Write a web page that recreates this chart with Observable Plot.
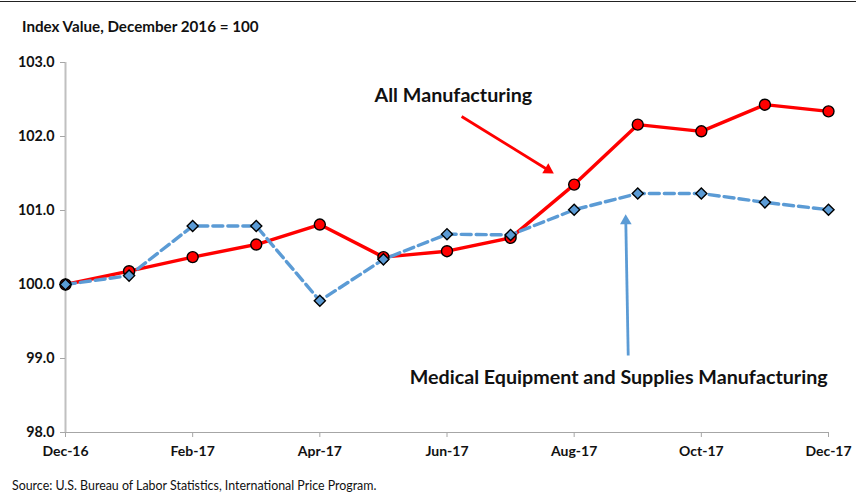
<!DOCTYPE html>
<html>
<head>
<meta charset="utf-8">
<script src="https://cdn.jsdelivr.net/npm/d3@7"></script>
<script src="https://cdn.jsdelivr.net/npm/@observablehq/plot@0.6"></script>
<style>
  html, body { margin: 0; padding: 0; background: #fff; }
  #wrap { width: 856px; height: 497px; position: relative; overflow: hidden; font-family: Lato, "Open Sans", sans-serif; }
  #topline { position: absolute; left: 0; top: 1px; width: 856px; height: 0; border-top: 1.5px solid #222; }
  #title { height: 42px; box-sizing: border-box; padding: 16px 0 0 22px; font-weight: 700; font-size: 15.2px; color: #111; line-height: 20px; }
  #caption { height: 27px; box-sizing: border-box; padding: 8px 0 0 12px; font-size: 12.4px; color: #111; line-height: 15px; }
  svg { display: block; }
</style>
</head>
<body>
<div id="wrap">
  <div id="topline"></div>
  <div id="title">Index Value, December 2016 = 100</div>
  <div id="chart"></div>
  <div id="caption">Source: U.S. Bureau of Labor Statistics, International Price Program.</div>
</div>
<script>
// ---- data ----
const months = ["Dec-16","Jan-17","Feb-17","Mar-17","Apr-17","May-17","Jun-17","Jul-17","Aug-17","Sep-17","Oct-17","Nov-17","Dec-17"];
const allManufacturing = [100.0, 100.18, 100.37, 100.54, 100.81, 100.37, 100.45, 100.63, 101.35, 102.16, 102.07, 102.43, 102.34];
const medicalEquipment = [100.0, 100.12, 100.79, 100.79, 99.78, 100.34, 100.68, 100.67, 101.01, 101.23, 101.23, 101.11, 101.01];
const yTicks = [98, 99, 100, 101, 102, 103];
const xTicks = [0, 2, 4, 6, 8, 10, 12];
const labels = [
  {text: "All Manufacturing", x: 6.1, y: 102.55},
  {text: "Medical Equipment and Supplies Manufacturing", x: 8.7, y: 98.74}
];
const arrows = [
  {x1: 6.23, y1: 102.27, x2: 7.68, y2: 101.5, color: "#ff0000"},
  {x1: 8.85, y1: 99.04, x2: 8.81, y2: 100.95, color: "#5b9bd5"}
];

// ---- layout ----
const W = 856, H = 428;
const mL = 65, mR = 28, mT = 20, mB = 38;
const RED = "#ff0000", BLUE = "#5b9bd5";

const red = months.map((m, i) => ({i, v: allManufacturing[i]}));
const blue = months.map((m, i) => ({i, v: medicalEquipment[i]}));

// pixel scales to orient arrowheads
const xs = Plot.scale({x: {type: "linear", domain: [0, 12], range: [mL, W - mR]}});
const ys = Plot.scale({y: {type: "linear", domain: [98, 103], range: [H - mB, mT]}});
const headR = 4.3;
const tipDist = 2 * Math.sqrt(Math.PI * headR * headR / (Math.sqrt(3) * 3));
const heads = arrows.map(a => {
  const px1 = xs.apply(a.x1), py1 = ys.apply(a.y1);
  const px2 = xs.apply(a.x2), py2 = ys.apply(a.y2);
  const dx = px2 - px1, dy = py2 - py1, len = Math.hypot(dx, dy);
  const ux = dx / len, uy = dy / len;
  const cx = px2 - ux * tipDist, cy = py2 - uy * tipDist;
  return {
    x1: a.x1, y1: a.y1,
    xc: xs.invert(cx), yc: ys.invert(cy),
    rot: Math.atan2(dx, -dy) * 180 / Math.PI,
    color: a.color
  };
});

const chart = Plot.plot({
  width: W, height: H,
  marginLeft: mL, marginRight: mR, marginTop: mT, marginBottom: mB,
  style: {fontFamily: "Lato, 'Open Sans', sans-serif", background: "#fff", color: "#111"},
  x: {type: "linear", domain: [0, 12]},
  y: {type: "linear", domain: [98, 103]},
  marks: [
    Plot.ruleX([0], {y1: 98, y2: 103, stroke: "#c0c0c0", strokeWidth: 2}),
    Plot.ruleY([98], {x1: 0, x2: 12, stroke: "#a6a6a6", strokeWidth: 1.2}),
    Plot.axisY({ticks: yTicks, tickFormat: d3.format(".1f"), tickSize: 5, tickPadding: 6, stroke: "#a6a6a6", fontSize: 14.3, fontWeight: 700, label: null}),
    Plot.axisX({ticks: xTicks, tickFormat: i => months[i], tickSize: 5, tickPadding: 9, stroke: "#a6a6a6", fontSize: 14, fontWeight: 700, label: null}),
    Plot.line(red, {x: "i", y: "v", stroke: RED, strokeWidth: 3.4}),
    Plot.line(blue, {x: "i", y: "v", stroke: BLUE, strokeWidth: 3.4, strokeDasharray: "10,5"}),
    Plot.dot(red, {x: "i", y: "v", r: 5.5, fill: RED, stroke: "#000", strokeWidth: 1.4}),
    Plot.dot(blue, {x: "i", y: "v", symbol: "diamond2", r: 5, fill: BLUE, stroke: "#000", strokeWidth: 1.4}),
    Plot.text(labels, {x: "x", y: "y", text: "text", fontSize: 19.7, fontWeight: 700, fill: "#111"}),
    Plot.link(heads, {x1: "x1", y1: "y1", x2: "xc", y2: "yc", stroke: "color", strokeWidth: 2.8}),
    Plot.dot(heads, {x: "xc", y: "yc", symbol: "triangle", r: headR, rotate: "rot", fill: "color", stroke: "none"})
  ]
});
document.getElementById("chart").appendChild(chart);
</script>
</body>
</html>
